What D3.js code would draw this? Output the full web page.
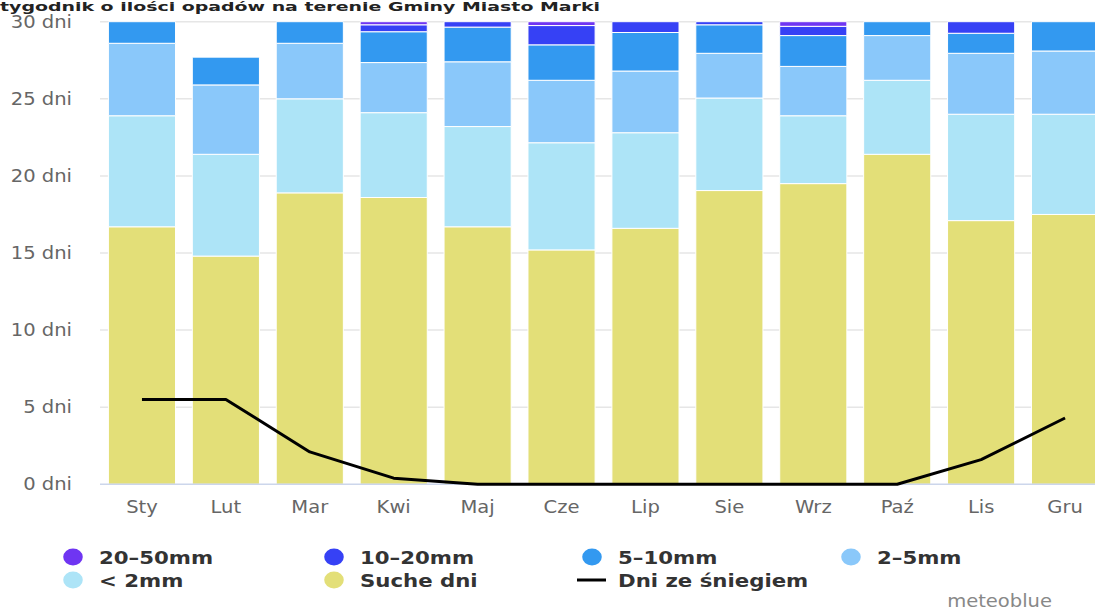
<!DOCTYPE html>
<html>
<head>
<meta charset="utf-8">
<script src="https://cdn.jsdelivr.net/npm/d3@7"></script>
<style>
  body { margin: 0; background: #fff; overflow: hidden; }
  svg { display: block; font-family: "DejaVu Sans", sans-serif; }
</style>
</head>
<body>
<svg id="chart" width="1095" height="610"></svg>
<script>
const months = ["Sty", "Lut", "Mar", "Kwi", "Maj", "Cze", "Lip", "Sie", "Wrz", "Paź", "Lis", "Gru"];
const dryDays = [16.7, 14.8, 18.9, 18.6, 16.7, 15.2, 16.6, 19.05, 19.5, 21.4, 17.1, 17.5];
const under2 = [7.2, 6.6, 6.1, 5.5, 6.5, 6.95, 6.2, 6.0, 4.4, 4.8, 6.9, 6.5];
const mm2to5 = [4.7, 4.5, 3.6, 3.25, 4.2, 4.05, 4.0, 2.9, 3.2, 2.9, 3.95, 4.1];
const mm5to10 = [1.4, 1.8, 1.4, 2.0, 2.25, 2.3, 2.5, 1.85, 2.0, 0.9, 1.3, 1.9];
const mm10to20 = [0, 0, 0, 0.45, 0.35, 1.25, 0.7, 0.2, 0.6, 0, 0.75, 0];
const mm20to50 = [0, 0, 0, 0.2, 0, 0.25, 0, 0, 0.3, 0, 0, 0];
const snowDays = [5.5, 5.5, 2.1, 0.4, 0, 0, 0, 0, 0, 0, 1.6, 4.3];
const yTicks = [0, 5, 10, 15, 20, 25, 30];

const series = [
  { key: "dry", name: "Suche dni", values: dryDays, color: "#e3df78" },
  { key: "u2", name: "< 2mm", values: under2, color: "#ade4f7" },
  { key: "m2", name: "2–5mm", values: mm2to5, color: "#8ac8fa" },
  { key: "m5", name: "5–10mm", values: mm5to10, color: "#3399f0" },
  { key: "m10", name: "10–20mm", values: mm10to20, color: "#3641f5" },
  { key: "m20", name: "20–50mm", values: mm20to50, color: "#6f35f2" }
];

// the picture is stretched sideways, so draw in narrower units
const k = 1.15;
const W = 1095 / k, H = 610;
const svg = d3.select("#chart")
  .attr("viewBox", `0 0 ${W} ${H}`)
  .attr("preserveAspectRatio", "none");

const rows = months.map((m, i) => {
  const r = { month: m };
  series.forEach(s => r[s.key] = s.values[i]);
  return r;
});
const stacked = d3.stack().keys(series.map(s => s.key))(rows);

const x = d3.scaleBand().domain(months).range([100 / k, 1107 / k])
  .paddingInner(0.2).paddingOuter(0.1);
const y = d3.scaleLinear().domain([0, 30]).range([484.3, 21.7]);

// grid
svg.append("g").selectAll("line")
  .data(yTicks.slice(1))
  .join("line")
  .attr("x1", 100 / k).attr("x2", W)
  .attr("y1", d => y(d)).attr("y2", d => y(d))
  .attr("stroke", "#e6e6e6").attr("stroke-width", 1.5)
  .attr("vector-effect", "non-scaling-stroke");

// stacked bars
svg.append("g").selectAll("g")
  .data(stacked)
  .join("g")
  .attr("fill", (d, i) => series[i].color)
  .selectAll("rect")
  .data(d => d.filter(p => p[1] - p[0] > 0))
  .join("rect")
  .attr("x", d => x(d.data.month))
  .attr("width", x.bandwidth())
  .attr("y", d => y(d[1]))
  .attr("height", d => y(d[0]) - y(d[1]))
  .attr("stroke", "#fff").attr("stroke-width", 1)
  .attr("vector-effect", "non-scaling-stroke");

// x axis line
svg.append("line")
  .attr("x1", 100 / k).attr("x2", W)
  .attr("y1", y(0)).attr("y2", y(0))
  .attr("stroke", "#ccd6eb").attr("stroke-width", 1.5)
  .attr("vector-effect", "non-scaling-stroke");

// snow line
const line = d3.line()
  .x((d, i) => x(months[i]) + x.bandwidth() / 2)
  .y(d => y(d));
svg.append("path")
  .datum(snowDays)
  .attr("d", line)
  .attr("fill", "none")
  .attr("stroke", "#000").attr("stroke-width", 3)
  .attr("stroke-linejoin", "round")
  .attr("vector-effect", "non-scaling-stroke");

// y labels
svg.append("g").selectAll("text")
  .data(yTicks)
  .join("text")
  .attr("x", 72 / k)
  .attr("y", d => y(d))
  .attr("dy", "0.36em")
  .attr("text-anchor", "end")
  .attr("font-size", 17)
  .attr("fill", "#666")
  .text(d => d + " dni");

// x labels
svg.append("g").selectAll("text")
  .data(months)
  .join("text")
  .attr("x", d => x(d) + x.bandwidth() / 2)
  .attr("y", 513)
  .attr("text-anchor", "middle")
  .attr("font-size", 17)
  .attr("fill", "#666")
  .text(d => d);

// title squeezed into the strip above the plot
svg.append("text")
  .attr("x", 0)
  .attr("y", 10.5)
  .attr("font-size", 12)
  .attr("font-weight", "bold")
  .attr("fill", "#222")
  .attr("textLength", 600 / k)
  .attr("lengthAdjust", "spacingAndGlyphs")
  .text("tygodnik o ilości opadów na terenie Gminy Miasto Marki");

// legend
const legendItems = [
  { name: "20–50mm", color: "#6f35f2", cx: 73, row: 0 },
  { name: "10–20mm", color: "#3641f5", cx: 334, row: 0 },
  { name: "5–10mm", color: "#3399f0", cx: 592, row: 0 },
  { name: "2–5mm", color: "#8ac8fa", cx: 851, row: 0 },
  { name: "< 2mm", color: "#ade4f7", cx: 73, row: 1 },
  { name: "Suche dni", color: "#e3df78", cx: 334, row: 1 },
  { name: "Dni ze śniegiem", color: "#000", cx: 592, row: 1, isLine: true }
];
const lg = svg.append("g").selectAll("g")
  .data(legendItems)
  .join("g")
  .attr("transform", d => `translate(${d.cx / k},${557 + d.row * 23})`);
lg.filter(d => !d.isLine).append("circle")
  .attr("r", 8.5)
  .attr("fill", d => d.color);
lg.filter(d => d.isLine).append("line")
  .attr("x1", -15 / k).attr("x2", 14 / k)
  .attr("stroke", "#000").attr("stroke-width", 3)
  .attr("vector-effect", "non-scaling-stroke");
lg.append("text")
  .attr("x", 26 / k)
  .attr("dy", "0.36em")
  .attr("font-size", 18.5)
  .attr("font-weight", "bold")
  .attr("fill", "#333")
  .text(d => d.name);

svg.append("text")
  .attr("x", 1052 / k)
  .attr("y", 607)
  .attr("text-anchor", "end")
  .attr("font-size", 17)
  .attr("fill", "#888")
  .text("meteoblue");
</script>
</body>
</html>
